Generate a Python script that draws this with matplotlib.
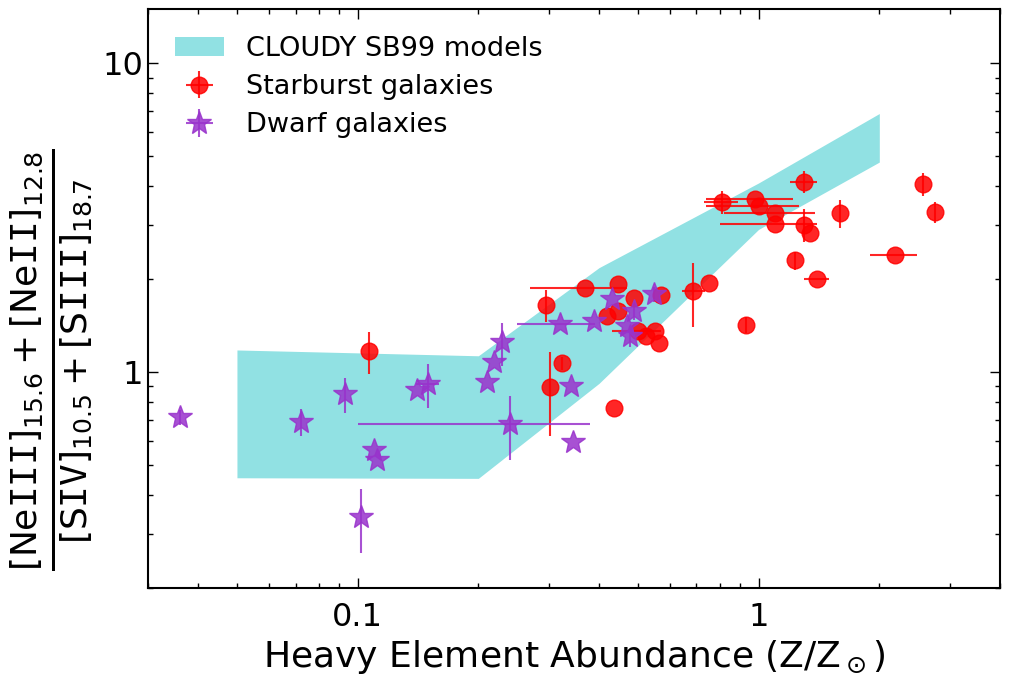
import matplotlib
matplotlib.use("Agg")
import matplotlib.pyplot as plt
from matplotlib.ticker import FuncFormatter

# CLOUDY SB99 model band
band_z = [0.05, 0.2, 0.4, 1.0, 2.0]
band_hi = [1.18, 1.13, 2.18, 4.1, 6.88]
band_lo = [0.455, 0.453, 0.92, 2.9, 4.79]

# starburst galaxies
sb_z = [0.107, 0.295, 0.369, 0.447, 0.488, 0.418, 0.447, 0.323, 0.302, 0.436,
        0.50, 0.525, 0.55, 0.565, 0.57, 0.688, 0.75, 0.932, 1.23, 0.81,
        0.98, 1.0, 1.10, 1.10, 1.30, 1.346, 1.30, 1.6, 1.40, 2.19, 2.57, 2.75]
sb_r = [1.17, 1.65, 1.87, 1.93, 1.745, 1.523, 1.58, 1.07, 0.893, 0.766,
        1.36, 1.31, 1.36, 1.24, 1.78, 1.83, 1.95, 1.424, 2.30, 3.56,
        3.64, 3.45, 3.28, 3.03, 3.0, 2.82, 4.14, 3.27, 2.0, 2.40, 4.07, 3.30]
sb_zerr = [0, 0, 0.1, 0, 0, 0, 0, 0, 0, 0,
           0.07, 0, 0, 0, 0, 0.045, 0, 0, 0, 0.08,
           0.24, 0.26, 0.28, 0.3, 0, 0, 0.1, 0, 0.1, 0.29, 0, 0]
sb_rerr = [0.18, 0.2, 0, 0, 0, 0, 0, 0.05, 0.27, 0,
           0, 0, 0, 0, 0, 0.43, 0, 0.08, 0.15, 0.3,
           0, 0, 0, 0, 0.37, 0, 0.35, 0.35, 0, 0, 0.35, 0.25]

# dwarf galaxies
dw_z = [0.036, 0.0721, 0.093, 0.1404, 0.150, 0.1098, 0.1118, 0.1017, 0.24,
        0.229, 0.219, 0.21, 0.32, 0.389, 0.34, 0.345, 0.43, 0.488, 0.547,
        0.469, 0.478]
dw_r = [0.714, 0.692, 0.85, 0.876, 0.916, 0.558, 0.518, 0.34, 0.68,
        1.248, 1.076, 0.927, 1.43, 1.467, 0.905, 0.593, 1.72, 1.58, 1.79,
        1.41, 1.31]
dw_zerr = [0, 0, 0, 0, 0.01, 0, 0, 0, 0.14,
           0, 0, 0, 0.07, 0, 0, 0, 0, 0, 0,
           0, 0]
dw_rerr = [0.04, 0.07, 0.11, 0, 0.15, 0, 0, 0.08, 0.16,
           0.2, 0, 0, 0, 0, 0, 0, 0, 0.1, 0.1,
           0, 0.1]

fig = plt.figure(figsize=(10.12, 6.83), dpi=100)
ax = fig.add_axes([148 / 1012, 1 - 588 / 683, 852 / 1012, 579 / 683])

ax.fill_between(band_z, band_lo, band_hi, color='#91e1e3', lw=0,
                label='CLOUDY SB99 models')
ax.errorbar(sb_z, sb_r, xerr=sb_zerr, yerr=sb_rerr, fmt='o', color='red',
            ms=12, mec='red', elinewidth=1.5, alpha=0.85, capsize=0,
            label='Starburst galaxies')
ax.errorbar(dw_z, dw_r, xerr=dw_zerr, yerr=dw_rerr, fmt='*', color='#9933cc',
            ms=18, mec='#9933cc', elinewidth=1.5, alpha=0.85, capsize=0,
            label='Dwarf galaxies')

ax.set_xscale('log')
ax.set_yscale('log')
ax.set_xlim(0.03, 4)
ax.set_ylim(0.2, 15)

fmt = FuncFormatter(lambda v, p: '%g' % v)
ax.xaxis.set_major_formatter(fmt)
ax.yaxis.set_major_formatter(fmt)
ax.tick_params(which='both', direction='in', top=True, right=True,
               labelsize=23)
ax.tick_params(which='major', length=7, width=1)
ax.tick_params(which='minor', length=3.5, width=1)
ax.tick_params(axis='x', pad=10)
for s in ax.spines.values():
    s.set_linewidth(1.5)

ax.set_xlabel(r'Heavy Element Abundance (Z/Z$_\odot$)', fontsize=26,
              labelpad=4)
ax.set_ylabel(r'$\frac{[\mathrm{Ne}\mathtt{III}]_{15.6}+[\mathrm{Ne}\mathtt{II}]_{12.8}}'
              r'{[\mathrm{S}\mathtt{IV}]_{10.5}+[\mathrm{S}\mathtt{III}]_{18.7}}$',
              fontsize=37)
ax.yaxis.set_label_coords(-0.062, 0.395)

ax.legend(loc='upper left', frameon=False, fontsize=19.5, numpoints=1,
          handlelength=1.8, labelspacing=0.45, handletextpad=0.8,
          borderaxespad=0.6)

fig.savefig('out.png', dpi=100)
